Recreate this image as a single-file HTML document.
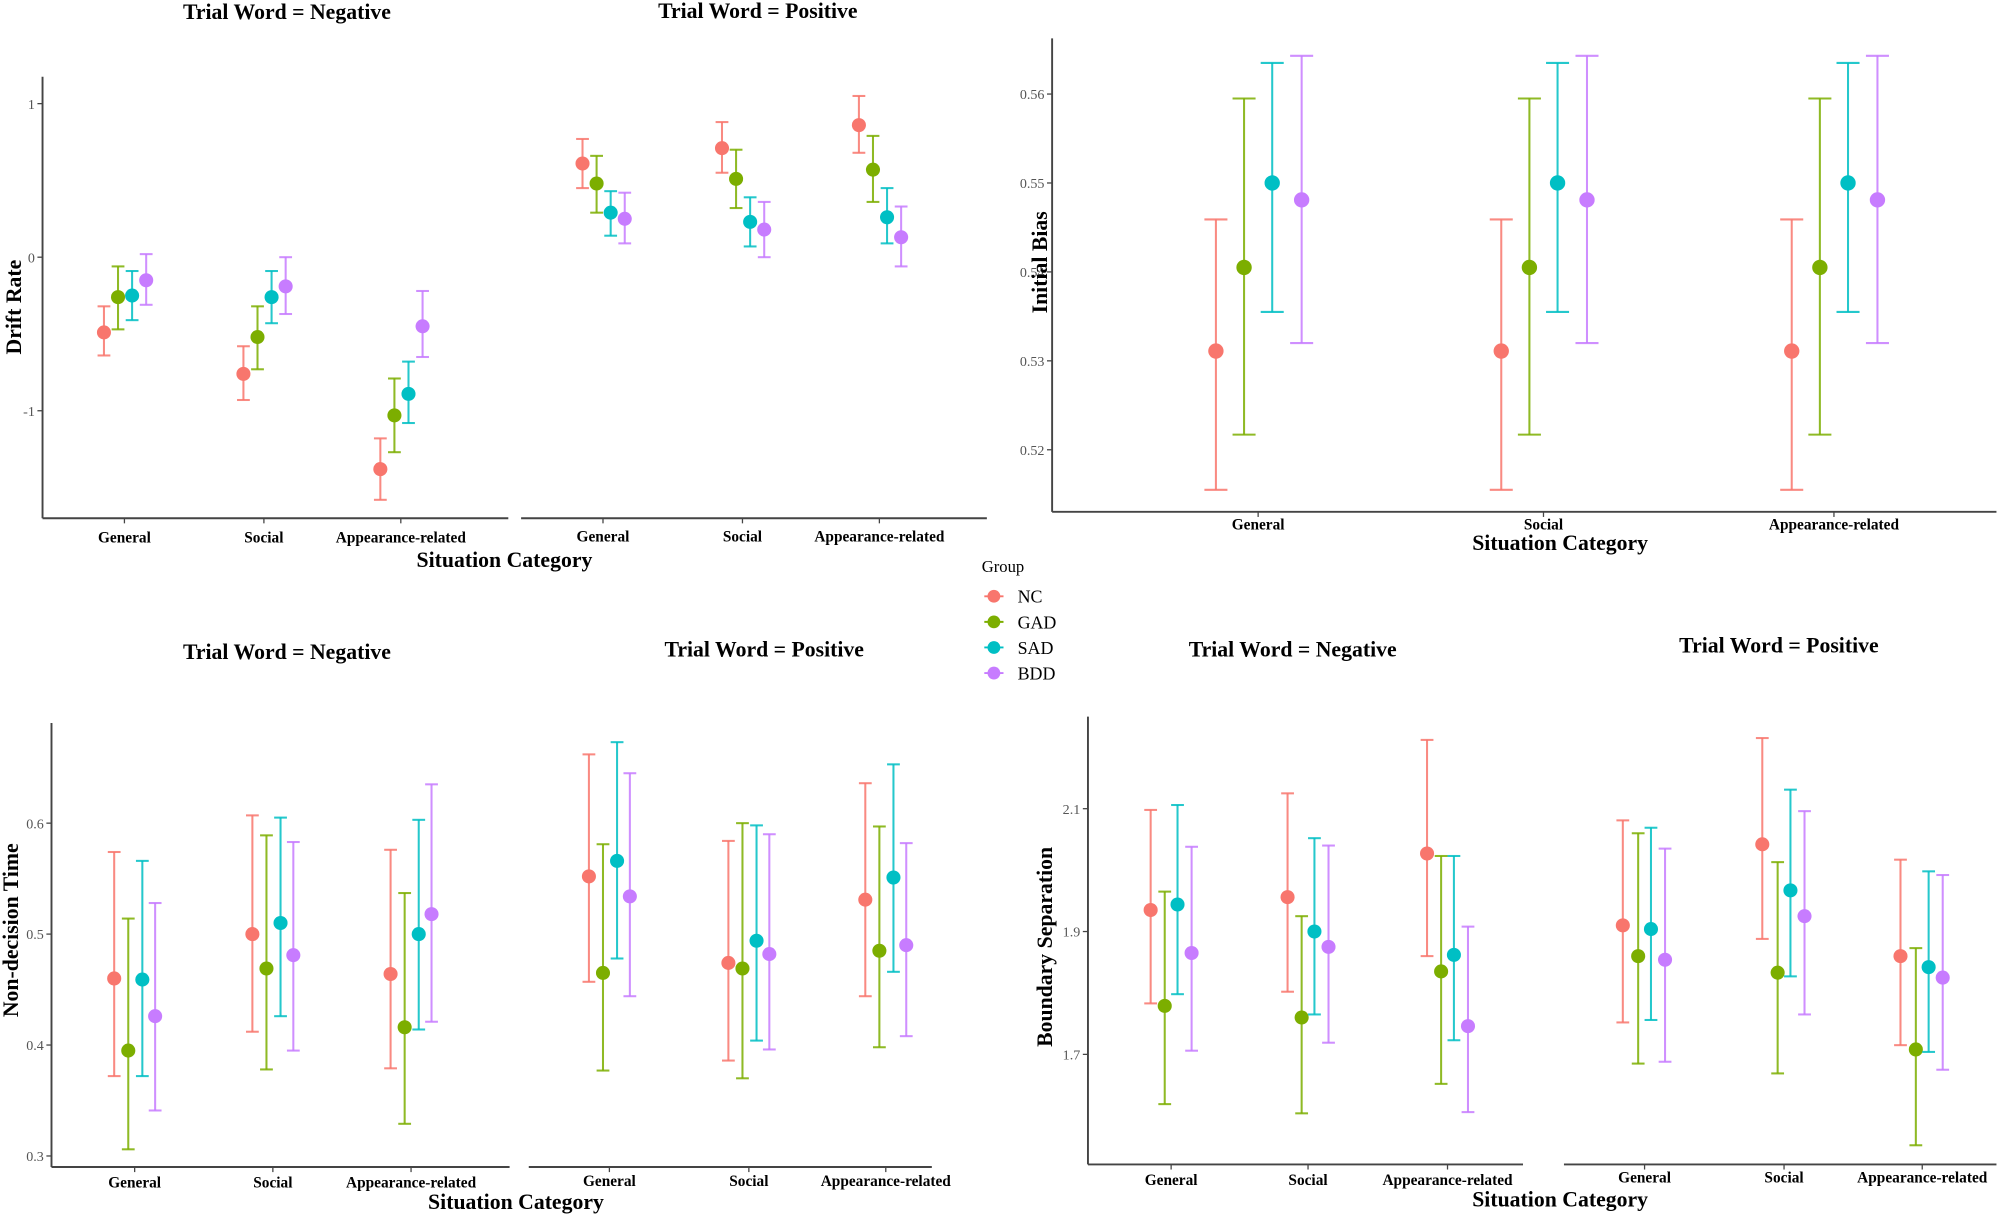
<!DOCTYPE html>
<html><head><meta charset="utf-8"><style>
html,body{margin:0;padding:0;background:#fff}
svg{display:block}
text{font-family:"Liberation Serif",serif}
</style></head><body>
<svg id="chart" width="2007" height="1222" viewBox="0 0 1568 955" xmlns="http://www.w3.org/2000/svg"></svg>
<script>
const groups=["NC","GAD","SAD","BDD"];
const colors=["#F8766D","#7CAE00","#00BFC4","#C77CFF"];
const categories=["General","Social","Appearance-related"];
// Drift rate
const driftNegEst=[[-0.49,-0.26,-0.25,-0.15],[-0.76,-0.52,-0.26,-0.19],[-1.38,-1.03,-0.89,-0.45]];
const driftNegLo=[[-0.64,-0.47,-0.41,-0.31],[-0.93,-0.73,-0.43,-0.37],[-1.58,-1.27,-1.08,-0.65]];
const driftNegHi=[[-0.32,-0.06,-0.09,0.02],[-0.58,-0.32,-0.09,0.0],[-1.18,-0.79,-0.68,-0.22]];
const driftPosEst=[[0.61,0.48,0.29,0.25],[0.71,0.51,0.23,0.18],[0.86,0.57,0.26,0.13]];
const driftPosLo=[[0.45,0.29,0.14,0.09],[0.55,0.32,0.07,0.0],[0.68,0.36,0.09,-0.06]];
const driftPosHi=[[0.77,0.66,0.43,0.42],[0.88,0.70,0.39,0.36],[1.05,0.79,0.45,0.33]];
const driftTicks=[1,0,-1];
// Initial bias
const biasEst=[[0.5311,0.5405,0.5500,0.5481],[0.5311,0.5405,0.5500,0.5481],[0.5311,0.5405,0.5500,0.5481]];
const biasLo=[[0.5155,0.5217,0.5355,0.5320],[0.5155,0.5217,0.5355,0.5320],[0.5155,0.5217,0.5355,0.5320]];
const biasHi=[[0.5459,0.5595,0.5635,0.5643],[0.5459,0.5595,0.5635,0.5643],[0.5459,0.5595,0.5635,0.5643]];
const biasTicks=[0.56,0.55,0.54,0.53,0.52];
// Non-decision time
const ndtNegEst=[[0.460,0.395,0.459,0.426],[0.500,0.469,0.510,0.481],[0.464,0.416,0.500,0.518]];
const ndtNegLo=[[0.372,0.306,0.372,0.341],[0.412,0.378,0.426,0.395],[0.379,0.329,0.414,0.421]];
const ndtNegHi=[[0.574,0.514,0.566,0.528],[0.607,0.589,0.605,0.583],[0.576,0.537,0.603,0.635]];
const ndtPosEst=[[0.552,0.465,0.566,0.534],[0.474,0.469,0.494,0.482],[0.531,0.485,0.551,0.490]];
const ndtPosLo=[[0.457,0.377,0.478,0.444],[0.386,0.370,0.404,0.396],[0.444,0.398,0.466,0.408]];
const ndtPosHi=[[0.662,0.581,0.673,0.645],[0.584,0.600,0.598,0.590],[0.636,0.597,0.653,0.582]];
const ndtTicks=[0.6,0.5,0.4,0.3];
// Boundary separation
const bsNegEst=[[1.935,1.779,1.944,1.865],[1.956,1.760,1.900,1.875],[2.027,1.835,1.862,1.746]];
const bsNegLo=[[1.783,1.619,1.798,1.706],[1.802,1.604,1.765,1.719],[1.860,1.652,1.723,1.606]];
const bsNegHi=[[2.098,1.965,2.106,2.038],[2.125,1.925,2.052,2.040],[2.212,2.023,2.023,1.908]];
const bsPosEst=[[1.910,1.860,1.904,1.854],[2.042,1.833,1.967,1.925],[1.860,1.708,1.842,1.825]];
const bsPosLo=[[1.752,1.685,1.756,1.688],[1.888,1.669,1.827,1.765],[1.715,1.552,1.704,1.675]];
const bsPosHi=[[2.081,2.060,2.069,2.035],[2.215,2.013,2.131,2.096],[2.017,1.873,1.998,1.992]];
const bsTicks=[2.1,1.9,1.7];

const svg=document.getElementById('chart');
const NS="http://www.w3.org/2000/svg";
function el(tag,attrs,parent){const e=document.createElementNS(NS,tag);for(const k in attrs)e.setAttribute(k,attrs[k]);(parent||svg).appendChild(e);return e;}
function txt(x,y,s,size,opts,parent){const t=el('text',Object.assign({x:x,y:y,'font-size':size,'text-anchor':'middle'},opts||{}),parent);t.textContent=s;return t;}

function facet(name,g,yScale,catX,off,est,lo,hi,capW,r){
  for(let c=0;c<categories.length;c++){
    for(let k=0;k<groups.length;k++){
      const x=catX[c]+off[k];
      const eb=el('g',{},g);
      
      
      const y1=yScale(lo[c][k]),y2=yScale(hi[c][k]);
      el('line',{x1:x,x2:x,y1:y1,y2:y2,stroke:colors[k],'stroke-width':1.6,opacity:0.85},eb);
      el('line',{x1:x-capW,x2:x+capW,y1:y1,y2:y1,stroke:colors[k],'stroke-width':1.6,opacity:0.85},eb);
      el('line',{x1:x-capW,x2:x+capW,y1:y2,y2:y2,stroke:colors[k],'stroke-width':1.6,opacity:0.85},eb);
      el('circle',{cx:x,cy:yScale(est[c][k]),r:r,fill:colors[k]},eb);
    }
  }
}
function xAxis(g,x0,x1,y,catX,labelY){
  el('line',{x1:x0,x2:x1,y1:y,y2:y,stroke:'#444','stroke-width':1.5},g);
  catX.forEach((cx,i)=>{
    el('line',{x1:cx,x2:cx,y1:y,y2:y+4,stroke:'#444','stroke-width':1},g);
    const t=txt(cx,labelY,categories[i],12,{'font-weight':'bold'},g);
    
    
  });
}
function yAxis(g,x,yTop,yBot,ticks,yScale,fmt){
  el('line',{x1:x,x2:x,y1:yTop,y2:yBot,stroke:'#444','stroke-width':1.5},g);
  ticks.forEach(v=>{
    const y=yScale(v);
    el('line',{x1:x-4,x2:x,y1:y,y2:y,stroke:'#444','stroke-width':1},g);
    const t=txt(x-6,y+4,fmt(v),11,{'text-anchor':'end',fill:'#555'},g);
    
    
  });
}
function yTitle(g,x,y,s){const t=txt(x,y,s,17,{'font-weight':'bold',transform:'rotate(-90 '+x+' '+y+')'},g);}
function title(g,x,y,s,size){const t=txt(x,y,s,size||17,{'font-weight':'bold'},g);}
function xTitle(g,x,y){const t=txt(x,y,'Situation Category',17,{'font-weight':'bold'},g);}
const off4=[-16,-5,6,17];
const fmtPlain=v=>String(v);
const fmt2=v=>v.toFixed(2);
const fmt1=v=>v.toFixed(1);

// Panel 1: Drift rate
const p1=el('g',{});
const y1s=v=>201-120*v;
title(p1,224,15,'Trial Word = Negative');title(p1,592,14,'Trial Word = Positive');
yAxis(p1,33,60,405,driftTicks,y1s,fmtPlain);
xAxis(p1,33,397,405,[97,206,313],424);
xAxis(p1,407,771,405,[471,580,687],423);
facet('drift-neg',p1,y1s,[97,206,313],off4,driftNegEst,driftNegLo,driftNegHi,5,5.5);
facet('drift-pos',p1,y1s,[471,580,687],off4,driftPosEst,driftPosLo,driftPosHi,5,5.5);
yTitle(p1,16,240,'Drift Rate');xTitle(p1,394,443);

// Panel 2: Initial bias
const p2=el('g',{});
const y2s=v=>143-(v-0.55)*6950;
yAxis(p2,822,30,400,biasTicks,y2s,fmt2);
xAxis(p2,822,1560,400,[983,1206,1433],414);
facet('bias',p2,y2s,[983,1206,1433],[-33,-11,11,34],biasEst,biasLo,biasHi,9,6);
yTitle(p2,818,205,'Initial Bias');xTitle(p2,1219,430);

// Legend
const lg=el('g',{});
const lt=txt(767,447,'Group',13,{'text-anchor':'start'},lg);
groups.forEach((gname,i)=>{
  const e=el('g',{},lg);
  
  
  const y=466+i*20;
  el('line',{x1:769,x2:784,y1:y,y2:y,stroke:colors[i],'stroke-width':1.5},e);
  el('circle',{cx:776.5,cy:y,r:5,fill:colors[i]},e);
  txt(795,y+5,gname,14,{'text-anchor':'start'},e);
});

// Panel 3: Non-decision time
const p3=el('g',{});
const y3s=v=>730-(v-0.5)*867;
title(p3,224,515,'Trial Word = Negative');title(p3,597,513,'Trial Word = Positive');
yAxis(p3,40,565,912,ndtTicks,y3s,fmt1);
xAxis(p3,40,398,912,[105,213,321],928);
xAxis(p3,413,728,912,[476,585,692],927);
facet('ndt-neg',p3,y3s,[105,213,321],[-16,-5,6,16],ndtNegEst,ndtNegLo,ndtNegHi,5,5.5);
facet('ndt-pos',p3,y3s,[476,585,692],[-16,-5,6,16],ndtPosEst,ndtPosLo,ndtPosHi,5,5.5);
yTitle(p3,14,727,'Non-decision Time');xTitle(p3,403,945);

// Panel 4: Boundary separation
const p4=el('g',{});
const y4s=v=>728-(v-1.9)*480;
title(p4,1010,513,'Trial Word = Negative');title(p4,1390,510,'Trial Word = Positive');
yAxis(p4,850,560,910,bsTicks,y4s,fmt1);
xAxis(p4,850,1190,910,[915,1022,1131],926);
xAxis(p4,1222,1560,910,[1285,1394,1502],924);
facet('bs-neg',p4,y4s,[915,1022,1131],[-16,-5,5,16],bsNegEst,bsNegLo,bsNegHi,5,5.5);
facet('bs-pos',p4,y4s,[1285,1394,1502],[-17,-5,5,16],bsPosEst,bsPosLo,bsPosHi,5,5.5);
yTitle(p4,822,740,'Boundary Separation');xTitle(p4,1219,943);
</script>
</body></html>
